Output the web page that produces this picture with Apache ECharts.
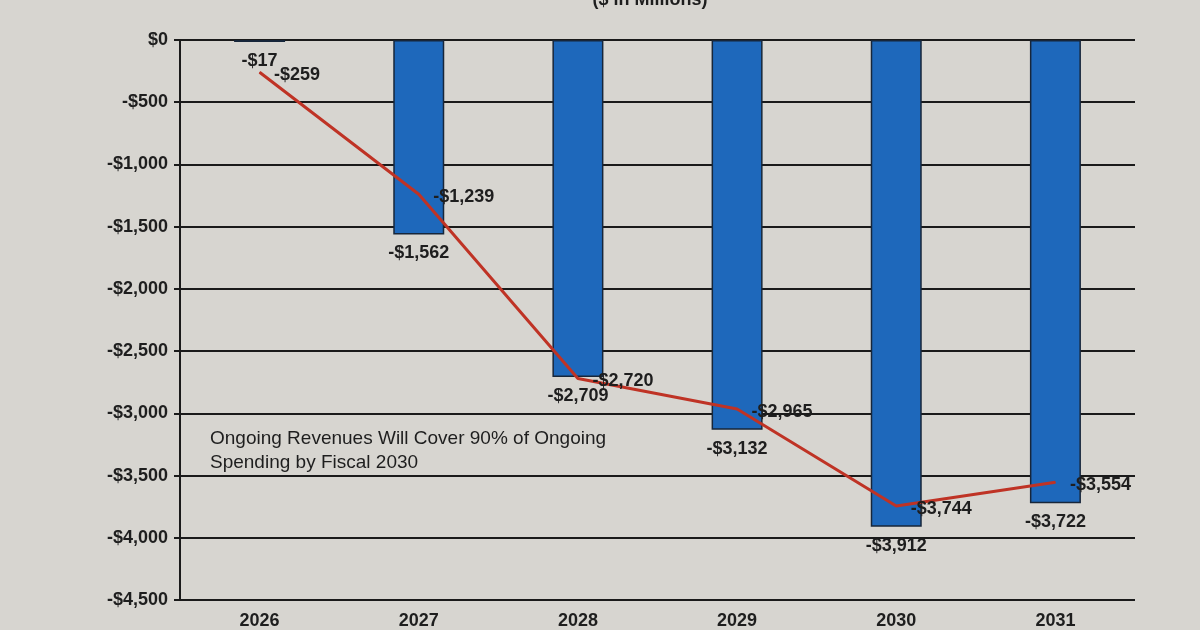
<!DOCTYPE html>
<html>
<head>
<meta charset="utf-8">
<script src="https://cdn.jsdelivr.net/npm/echarts@6/dist/echarts.min.js"></script>
<style>
  html, body { margin: 0; padding: 0; background: #d7d5d0; }
  #chart { width: 1200px; height: 630px; }
</style>
</head>
<body>
<div id="chart"></div>
<script>
const years = ['2026', '2027', '2028', '2029', '2030', '2031']
const gapValues = [-17, -1562, -2709, -3132, -3912, -3722]
const lineValues = [-259, -1239, -2720, -2965, -3744, -3554]
const noteLines = ['Ongoing Revenues Will Cover 90% of Ongoing', 'Spending by Fiscal 2030']

function money(v) {
  const s = Math.abs(v).toLocaleString('en-US')
  return (v < 0 ? '-$' : '$') + s
}

const txt = '#1e1e1e'
const font = '"Liberation Sans", Arial, sans-serif'

const myChart = echarts.init(document.getElementById('chart'))
myChart.setOption({
  backgroundColor: '#d7d5d0',
  animation: false,
  textStyle: { fontFamily: font },
  title: {
    text: '($ in Millions)',
    left: 645,
    top: -14,
    textAlign: 'center',
    textStyle: { fontSize: 18, fontWeight: 'bold', color: txt, fontFamily: font }
  },
  grid: { left: 180, right: 65, top: 40, bottom: 27 },
  xAxis: {
    type: 'category',
    data: years,
    position: 'bottom',
    axisLine: { show: false },
    axisTick: { show: false },
    axisLabel: { color: txt, fontSize: 18, fontWeight: 'bold', margin: 12 }
  },
  yAxis: {
    type: 'value',
    min: -4500,
    max: 0,
    interval: 500,
    axisLine: { show: true, lineStyle: { color: '#1a1a1a', width: 2 } },
    axisTick: { show: true, length: 6, lineStyle: { color: '#1a1a1a', width: 2 } },
    axisLabel: { color: txt, fontSize: 18, fontWeight: 'bold', margin: 12, formatter: money },
    splitLine: { show: true, lineStyle: { color: '#1a1a1a', width: 2 } }
  },
  graphic: [
    {
      type: 'text',
      left: 210,
      top: 427,
      style: {
        text: noteLines.join('\n'),
        font: '19px ' + font,
        fill: txt,
        lineHeight: 24
      }
    }
  ],
  series: [
    {
      type: 'bar',
      data: gapValues,
      barWidth: 51,
      itemStyle: { color: '#1e68bb', borderColor: '#17263a', borderWidth: 1.5 },
      label: {
        show: true,
        position: 'bottom',
        distance: 10,
        color: txt,
        fontSize: 18,
        fontWeight: 'bold',
        formatter: p => money(p.value)
      },
      z: 2
    },
    {
      type: 'line',
      data: lineValues,
      symbol: 'circle',
      symbolSize: 1,
      showSymbol: true,
      itemStyle: { color: '#bf3325' },
      lineStyle: { color: '#bf3325', width: 3 },
      label: {
        show: true,
        position: 'right',
        distance: 14,
        offset: [0, 3],
        color: txt,
        fontSize: 18,
        fontWeight: 'bold',
        formatter: p => money(p.value)
      },
      z: 3
    }
  ]
})
</script>
</body>
</html>
